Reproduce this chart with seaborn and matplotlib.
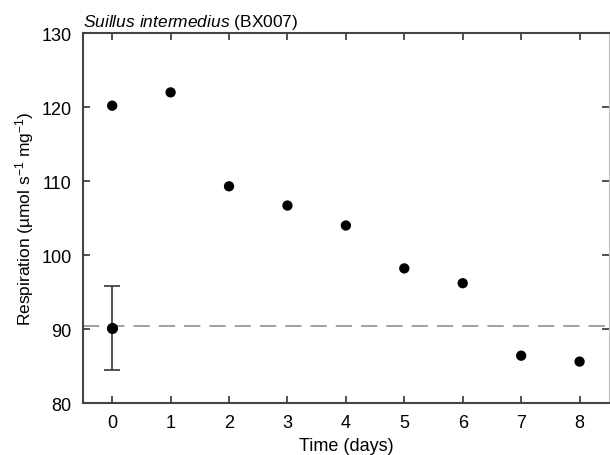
import matplotlib
matplotlib.use("Agg")
import matplotlib.pyplot as plt
import seaborn as sns
import pandas as pd

# data
days = [0, 1, 2, 3, 4, 5, 6, 7, 8]
respiration = [120.2, 122.0, 109.3, 106.7, 104.0, 98.2, 96.2, 86.4, 85.6]
baseline_day = [0]
baseline_mean = [90.2]
baseline_err_low = [5.7]
baseline_err_high = [5.6]
baseline_level = 90.4

sns.set_style("ticks")
plt.rcParams["font.family"] = ["Liberation Sans", "DejaVu Sans"]
plt.rcParams["mathtext.fontset"] = "custom"
plt.rcParams["mathtext.rm"] = "Liberation Sans"
plt.rcParams["mathtext.it"] = "Liberation Sans:italic"
plt.rcParams["text.color"] = "black"
plt.rcParams["axes.labelcolor"] = "black"

df = pd.DataFrame({"day": days, "resp": respiration})

fig = plt.figure(figsize=(6.1, 4.56), dpi=100)
ax = fig.add_axes([0.136, 0.114, 0.862, 0.811])

ax.axhline(baseline_level, color="#999999", linestyle=(0, (9, 5)), linewidth=1.3, zorder=1)
ax.errorbar(baseline_day, baseline_mean, yerr=[baseline_err_low, baseline_err_high],
            fmt="o", color="black", ecolor="#444444", elinewidth=1.3, capsize=6,
            capthick=1.3, markersize=7, zorder=3)
sns.scatterplot(data=df, x="day", y="resp", color="black", s=55, edgecolor="none",
                ax=ax, zorder=3)

ax.set_xlim(-0.5, 8.5)
ax.set_ylim(80, 130)
ax.set_xticks(range(0, 9))
ax.set_yticks(range(80, 131, 10))
ax.tick_params(direction="in", length=5, width=1.2, color="#333333",
               labelsize=13, labelcolor="black", top=True, right=True, pad=8)
for side in ["left", "bottom", "top"]:
    ax.spines[side].set_color("#444444")
    ax.spines[side].set_linewidth(1.5)
ax.spines["right"].set_color("#bbbbbb")

ax.set_xlabel("Time (days)", fontsize=13, labelpad=4)
ax.set_ylabel("Respiration (µmol s$^{-1}$ mg$^{-1}$)", fontsize=12.5, labelpad=4)
ax.set_title("$\\mathit{Suillus\\ intermedius}$ (BX007)", fontsize=12.5, loc="left", pad=5)

fig.savefig("out.png", dpi=100)
